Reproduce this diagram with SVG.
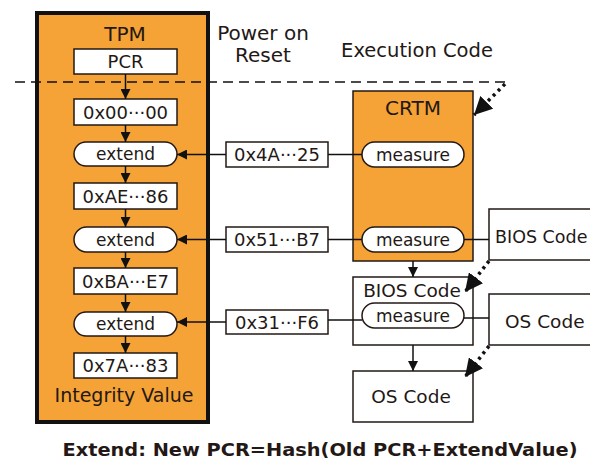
<svg xmlns="http://www.w3.org/2000/svg" width="590" height="460" viewBox="0 0 590 460">
  <defs>
    <marker id="ah" viewBox="0 0 10 10" refX="10" refY="5" markerWidth="10" markerHeight="10" markerUnits="userSpaceOnUse" orient="auto">
      <path d="M0,0 L10,5 L0,10 Z" fill="#111"/>
    </marker>
    <marker id="big" viewBox="0 0 10 10" refX="10" refY="5" markerWidth="18" markerHeight="18" markerUnits="userSpaceOnUse" orient="auto">
      <path d="M0,0 L10,5 L0,10 Z" fill="#111"/>
    </marker>
  </defs>
  <style>
    text { font-family: "DejaVu Sans", "Liberation Sans", sans-serif; fill: #231815; text-anchor: middle; }
    .box { fill: #fff; stroke: #231815; stroke-width: 1.5; }
    .pill { fill: #fff; stroke: #231815; stroke-width: 1.5; }
    .org { fill: #F5A236; stroke: #231815; stroke-width: 1.5; }
    .val { font-size: 18px; }
    .op { font-size: 17px; }
    .lbl { font-size: 18.5px; }
    .ttl { font-size: 20px; }
    .ln { stroke: #111; stroke-width: 1.5; fill: none; }
    .arr { stroke: #111; stroke-width: 1.5; fill: none; marker-end: url(#ah); }
    .dot { stroke: #111; stroke-width: 3.5; stroke-dasharray: 3 4; fill: none; marker-end: url(#big); }
  </style>

  <!-- TPM container -->
  <g id="tpm">
    <rect x="37" y="13" width="171" height="409" fill="#F5A236" stroke="#111" stroke-width="4"/>
    <text x="125" y="41" class="ttl">TPM</text>
    <text x="124" y="402" style="font-size:19px">Integrity Value</text>
  </g>
  <g id="pcr"><rect class="box" x="74" y="49" width="103" height="25"/><text x="125.5" y="68" class="val">PCR</text></g>
  <g id="v0"><rect class="box" x="74" y="99" width="103" height="26"/><text x="125.5" y="118.5" class="val">0x00···00</text></g>
  <g id="ext1"><rect class="pill" x="74" y="142" width="103" height="24" rx="12"/><text x="125.5" y="160" class="op">extend</text></g>
  <g id="v1"><rect class="box" x="74" y="183" width="103" height="26"/><text x="125.5" y="202.5" class="val">0xAE···86</text></g>
  <g id="ext2"><rect class="pill" x="74" y="227" width="103" height="25" rx="12.5"/><text x="125.5" y="245.5" class="op">extend</text></g>
  <g id="v2"><rect class="box" x="74" y="268" width="103" height="26"/><text x="125.5" y="287.5" class="val">0xBA···E7</text></g>
  <g id="ext3"><rect class="pill" x="74" y="312" width="103" height="24" rx="12"/><text x="125.5" y="330" class="op">extend</text></g>
  <g id="v3"><rect class="box" x="74" y="353" width="103" height="25"/><text x="125.5" y="372" class="val">0x7A···83</text></g>

  <!-- phase labels -->
  <g id="phase">
    <text x="263" y="40" class="ttl">Power on</text>
    <text x="263" y="62" class="ttl">Reset</text>
    <text x="417" y="57" style="font-size:19.5px">Execution Code</text>
  </g>

  <!-- CRTM -->
  <g id="crtm">
    <rect class="org" x="353" y="91" width="120" height="170"/>
    <text x="413" y="115" class="ttl">CRTM</text>
  </g>
  <g id="m1"><rect class="pill" x="362" y="142" width="102" height="25" rx="12.5"/><text x="413" y="160.5" class="op">measure</text></g>
  <g id="m2"><rect class="pill" x="362" y="227" width="102" height="25" rx="12.5"/><text x="413" y="245.5" class="op">measure</text></g>

  <!-- BIOS Code (loaded) -->
  <g id="bios">
    <rect class="box" x="353" y="277" width="120" height="68"/>
    <text x="412" y="297" class="lbl">BIOS Code</text>
  </g>
  <g id="m3"><rect class="pill" x="362" y="303" width="102" height="25" rx="12.5"/><text x="413" y="321.5" class="op">measure</text></g>

  <!-- OS Code (loaded) -->
  <g id="os">
    <rect class="box" x="353" y="371" width="120" height="51"/>
    <text x="411" y="403" class="lbl">OS Code</text>
  </g>

  <!-- stored images -->
  <g id="biosImg">
    <rect class="box" x="489" y="209" width="120" height="51"/>
    <text x="495" y="243" style="font-size:17.5px;text-anchor:start">BIOS Code</text>
  </g>
  <g id="osImg">
    <rect class="box" x="489" y="294" width="120" height="51"/>
    <text x="505" y="328" class="lbl" style="text-anchor:start">OS Code</text>
  </g>

  <!-- digests -->
  <g id="h1"><rect class="box" x="226" y="142" width="102" height="25"/><text x="277" y="161" class="val">0x4A···25</text></g>
  <g id="h2"><rect class="box" x="226" y="227" width="102" height="25"/><text x="277" y="246" class="val">0x51···B7</text></g>
  <g id="h3"><rect class="box" x="226" y="310" width="102" height="24"/><text x="277" y="328.5" class="val">0x31···F6</text></g>

  <g id="connectors">
    <!-- phase boundary -->
    <line x1="15" y1="82" x2="510" y2="82" stroke="#111" stroke-width="1.5" stroke-dasharray="10 6"/>
    <!-- PCR chain -->
    <line class="arr" x1="125.5" y1="74" x2="125.5" y2="99"/>
    <line class="arr" x1="125.5" y1="125" x2="125.5" y2="142"/>
    <line class="arr" x1="125.5" y1="166" x2="125.5" y2="183"/>
    <line class="arr" x1="125.5" y1="209" x2="125.5" y2="227"/>
    <line class="arr" x1="125.5" y1="252" x2="125.5" y2="268"/>
    <line class="arr" x1="125.5" y1="294" x2="125.5" y2="312"/>
    <line class="arr" x1="125.5" y1="336" x2="125.5" y2="353"/>
    <!-- digests into extend -->
    <line class="arr" x1="226" y1="154.5" x2="177" y2="154.5"/>
    <line class="arr" x1="226" y1="239.5" x2="177" y2="239.5"/>
    <line class="arr" x1="226" y1="322" x2="177" y2="322"/>
    <!-- measure to digests -->
    <line class="ln" x1="328" y1="154.5" x2="362" y2="154.5"/>
    <line class="ln" x1="328" y1="239.5" x2="362" y2="239.5"/>
    <line class="ln" x1="328" y1="320" x2="362" y2="320"/>
    <!-- measure to images -->
    <line class="ln" x1="464" y1="239.5" x2="489" y2="239.5"/>
    <line class="ln" x1="464" y1="318" x2="489" y2="318"/>
    <!-- control transfer -->
    <line class="arr" x1="413" y1="261" x2="413" y2="277"/>
    <line class="arr" x1="413" y1="345" x2="413" y2="371"/>
    <!-- loading -->
    <line class="dot" x1="505" y1="84" x2="474" y2="115"/>
    <line class="dot" x1="489" y1="261" x2="465" y2="292"/>
    <line class="dot" x1="489" y1="346" x2="465" y2="377"/>
  </g>

  <text x="320" y="456" textLength="515" lengthAdjust="spacingAndGlyphs" style="font-size:18px;font-weight:bold">Extend: New PCR=Hash(Old PCR+ExtendValue)</text>
</svg>
